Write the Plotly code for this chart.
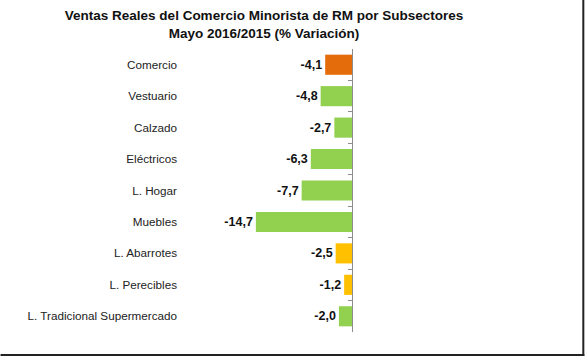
import plotly.graph_objects as go

categories = ["Comercio", "Vestuario", "Calzado", "Eléctricos", "L. Hogar",
              "Muebles", "L. Abarrotes", "L. Perecibles", "L. Tradicional Supermercado"]
values = [-4.1, -4.8, -2.7, -6.3, -7.7, -14.7, -2.5, -1.2, -2.0]
colors = ["#E46C0A", "#92D050", "#92D050", "#92D050", "#92D050",
          "#92D050", "#FFC000", "#FFC000", "#92D050"]

W, H = 586, 357
ml = 182
plot_right = 352.5
mr = W - plot_right
mt = 49
plot_bottom = 332
mb = H - plot_bottom
pw = W - ml - mr
ph = H - mt - mb


def px_x(p):
    return (p - ml) / pw


def px_y(q):
    return (H - mb - q) / ph


fig = go.Figure()
fig.add_trace(go.Bar(
    x=values, y=categories, orientation="h",
    marker=dict(color=colors, line=dict(width=0)),
    texttemplate="<b>%{x:.1f}</b>", textposition="outside",
    textfont=dict(family="Liberation Sans", size=12.5, color="#111111"),
    cliponaxis=False, showlegend=False, hoverinfo="skip",
))
fig.add_trace(go.Scatter(
    x=values, y=categories, yaxis="y2", mode="markers",
    marker=dict(opacity=0), showlegend=False, hoverinfo="skip",
))

fig.update_layout(
    width=W, height=H,
    margin=dict(l=ml, r=mr, t=mt, b=mb, autoexpand=False),
    paper_bgcolor="white", plot_bgcolor="white",
    separators=",.",
    bargap=0.36,
    title=dict(
        text="<b>Ventas Reales del Comercio Minorista de RM por Subsectores<br>Mayo 2016/2015 (% Variación)</b>",
        x=264 / W, xref="container", xanchor="center",
        y=1 - 20 / H, yref="container", yanchor="top",
        font=dict(family="Liberation Sans", size=13.5, color="#111111"),
    ),
    xaxis=dict(range=[-26, 0], visible=False, fixedrange=True),
    yaxis=dict(
        categoryorder="array", categoryarray=categories,
        range=[8.5, -0.5], side="right",
        showticklabels=False, showline=True, linecolor="#8C8C8C", linewidth=1,
        ticks="inside", ticklen=4, tickcolor="#8C8C8C", tickson="boundaries",
        showgrid=False, zeroline=False, fixedrange=True,
    ),
    yaxis2=dict(
        overlaying="y", side="left",
        categoryorder="array", categoryarray=categories,
        range=[8.5, -0.5], showline=False, ticks="", showgrid=False,
        tickfont=dict(family="Liberation Sans", size=11.7, color="#222222"),
        ticklabelstandoff=4, fixedrange=True,
    ),
    shapes=[
        dict(type="line", xref="paper", yref="paper",
             x0=px_x(584.5), x1=px_x(584.5),
             y0=px_y(356), y1=px_y(0),
             line=dict(color="#222222", width=2)),
        dict(type="line", xref="paper", yref="paper",
             x0=px_x(0), x1=px_x(585.5),
             y0=px_y(355), y1=px_y(355),
             line=dict(color="#222222", width=2)),
    ],
)

fig.write_html(
    "out.html",
    config={"displayModeBar": False},
    post_script="document.body.style.margin='0';document.body.style.overflow='hidden';",
)
